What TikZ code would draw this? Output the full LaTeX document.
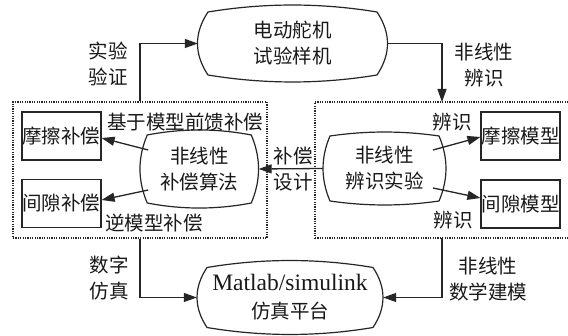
\documentclass[tikz,border=0pt]{standalone}
\usepackage{fontspec}
\setmainfont{Liberation Serif}
\newfontfamily\cjk{Noto Sans CJK SC}
\usetikzlibrary{arrows.meta,calc}
\newcommand\blobdraw[5]{%
 \draw[blobline, shift={(#1.center)}]
   (-#2,-#3) .. controls ({-#2/3},{-#3-#5}) and ({#2/3},{-#3-#5}) .. (#2,-#3)
   .. controls ({#2+#4},{-#3/3}) and ({#2+#4},{#3/3}) .. (#2,#3)
   .. controls ({#2/3},{#3+#5}) and ({-#2/3},{#3+#5}) .. (-#2,#3)
   .. controls ({-#2-#4},{#3/3}) and ({-#2-#4},{-#3/3}) .. cycle;}
\begin{document}
\begin{tikzpicture}[x=1pt,y=-1pt,
  every node/.style={inner sep=0pt, text=black!90, font=\cjk\fontsize{19.5}{26}\selectfont, align=center},
  smallbox/.style={draw=black!85, line width=1.2pt, minimum width=79pt, minimum height=48pt},
  dotbox/.style={draw=black!85, line width=1.3pt, dash pattern=on 1.2pt off 1.2pt},
  conn/.style={draw=black!85, line width=1.3pt, -{Triangle[length=13pt,width=9pt]}},
  blobline/.style={draw=black!85, line width=1.2pt},
]
\useasboundingbox (0,0) rectangle (568,336);
\fill[white] (0,0) rectangle (568,336);

% dotted group boxes
\node[dotbox, minimum width=254pt, minimum height=136pt] (DL) at (140,170) {};
\node[dotbox, minimum width=265pt, minimum height=136pt] (DR) at (447.5,170) {};

% small boxes
\node[smallbox] (FC) at (61.5,136) {摩擦补偿};
\node[smallbox] (GC) at (61.5,203.5) {间隙补偿};
\node[smallbox] (FM) at (520.5,136) {摩擦模型};
\node[smallbox] (GM) at (520.5,204) {间隙模型};

% blob nodes
\node[minimum width=189pt, minimum height=77pt] (T) at (292.5,43.5) {电动舵机\\试验样机};
\node[minimum width=186pt, minimum height=74pt, font=\cjk\fontsize{19.5}{28}\selectfont] (B) at (290,297.5)
  {{\rmfamily\fontsize{23.5}{28}\selectfont Matlab/simulink}\\仿真平台};
\node[minimum width=118.5pt, minimum height=78pt] (A) at (199.25,169) {非线性\\补偿算法};
\node[minimum width=123pt, minimum height=73pt] (R) at (384.5,168.5) {非线性\\辨识实验};
\blobdraw{T}{84.5}{31.5}{14}{9.3}
\blobdraw{B}{83}{30}{13.3}{9.3}
\blobdraw{A}{52}{34}{9.7}{6.7}
\blobdraw{R}{54.5}{32.5}{9.3}{5.3}

% labels
\node (l1) at (108,64) {实验\\验证};
\node (l2) at (484,65) {非线性\\辨识};
\node (l3) at (109,278.5) {数字\\仿真};
\node (l4) at (488,279) {非线性\\数学建模};
\node (l5) at (185,122) {基于模型前馈补偿};
\node[anchor=west] (l6) at (105,223) {逆模型补偿};
\node (l7) at (293,169.5) {补偿\\设计};
\node (l8) at (452,122) {辨识};
\node (l9) at (453,220) {辨识};

% connectors
\coordinate (drn) at (442,102);
\coordinate (drs) at (442,238);
\draw[conn] (DL.north) |- (T.west);
\draw[conn] (T.east) -| (drn);
\draw[conn] (DL.south) |- (B.west);
\draw[conn] (drs) |- (B.east);
\draw[conn] (R.west) -- (A.east);
\draw[conn] ($(A.center)+(-51,-19)$) -- ($(FC.east)+(0,2)$);
\draw[conn] ($(A.center)+(-51,21)$) -- ($(GC.east)+(0,-3.5)$);
\draw[conn] ($(R.center)+(48.5,-18.5)$) -- ($(FM.west)+(0,1)$);
\draw[conn] ($(R.center)+(48.5,19.5)$) -- ($(GM.west)+(0,-6)$);
\end{tikzpicture}
\end{document}
